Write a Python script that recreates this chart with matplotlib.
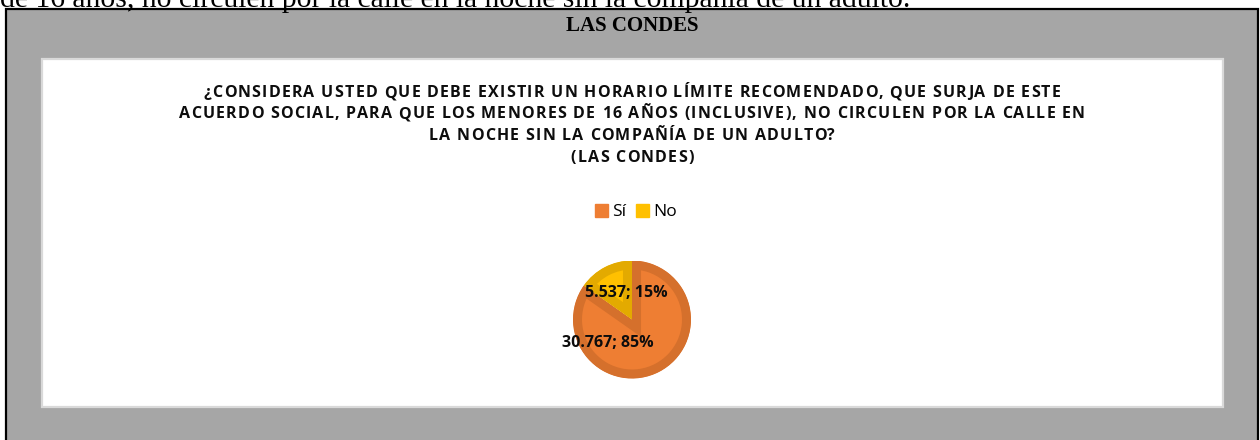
import numpy as np
import matplotlib
matplotlib.use('Agg')
import matplotlib.pyplot as plt
import matplotlib.patches as mpatches
from matplotlib.font_manager import FontProperties

# data
categories = ['Sí', 'No']
counts = [30767, 5537]
label_texts = ['30.767; 85%', '5.537; 15%']
title_lines = [
    '¿CONSIDERA USTED QUE DEBE EXISTIR UN HORARIO LÍMITE RECOMENDADO, QUE SURJA DE ESTE',
    'ACUERDO SOCIAL, PARA QUE LOS MENORES DE 16 AÑOS (INCLUSIVE), NO CIRCULEN POR LA CALLE EN',
    'LA NOCHE SIN LA COMPAÑÍA DE UN ADULTO?',
    '(LAS CONDES)',
]
header = 'LAS CONDES'
page_text = 'de 16 años, no circulen por la calle en la noche sin la compañía de un adulto.'

C_FILL = ['#ee7e33', '#ffc000']
C_EDGE = ['#d5702c', '#e3aa00']
W, H = 1260, 440

fig = plt.figure(figsize=(12.6, 4.4), dpi=100)
bg = fig.add_axes([0, 0, 1, 1])
bg.set_xlim(0, W)
bg.set_ylim(H, 0)
bg.axis('off')
renderer = fig.canvas.get_renderer()


def text_w(s, prop):
    # advance width in pixels, trailing spaces included
    w_bar = renderer.get_text_width_height_descent('|', prop, ismath=False)[0]
    return renderer.get_text_width_height_descent(s + '|', prop, ismath=False)[0] - w_bar


def spaced_text(ax, xc, y, s, track, prop, color):
    # letter-spaced text (Excel title style), centred on xc
    lefts = [text_w(s[:i], prop) + track * i for i in range(len(s))]
    total = text_w(s, prop) + track * (len(s) - 1)
    x0 = xc - total / 2
    for ch, lx in zip(s, lefts):
        if ch != ' ':
            ax.text(x0 + lx, y, ch, ha='left', va='center', fontproperties=prop, color=color)


# page text cut off at the top
bg.text(0, 7, page_text, fontsize=21.3, family='Liberation Serif', va='baseline', ha='left')

# grey box + white chart area
bg.add_patch(mpatches.Rectangle((5.5, 9.5), 1252.5, 440, facecolor='#a6a6a6',
                                edgecolor='black', linewidth=1.6))
bg.add_patch(mpatches.Rectangle((42, 59), 1181, 348, facecolor='white',
                                edgecolor='#d9d9d9', linewidth=1.6))
bg.text(632, 26, header, fontsize=15, family='Liberation Serif', fontweight='bold',
        ha='center', va='center')

title_prop = FontProperties(family='Open Sans', weight='bold', size=11.5)
base_w = text_w(title_lines[1], title_prop)
track = (906 - base_w) / (len(title_lines[1]) - 1)
for i, line in enumerate(title_lines):
    spaced_text(bg, 632, 93 + i * 21.5, line, track, title_prop, '#0d0d0d')

# legend
handles = [mpatches.Patch(color=c) for c in C_FILL]
fig.legend(handles, categories, loc='center', bbox_to_anchor=(636 / W, 1 - 212 / H),
           ncol=2, frameon=False, handlelength=0.75, handleheight=0.75, handletextpad=0.2,
           columnspacing=0.6, prop={'family': 'Open Sans', 'size': 12.5})

# pie
cx, cy, r = 632, 319.5, 59
ax = fig.add_axes([(cx - r) / W, 1 - (cy + r) / H, 2 * r / W, 2 * r / H])
wedges, _ = ax.pie(counts, colors=C_FILL, startangle=90, counterclock=False,
                   wedgeprops={'linewidth': 0})
ax.set_xlim(-1, 1)
ax.set_ylim(-1, 1)
ax.set_aspect('equal')
ax.axis('off')
for w, ec in zip(wedges, C_EDGE):
    w.set_edgecolor(ec)
    w.set_linewidth(13)
    w.set_clip_on(True)
    w.set_clip_path(w.get_path(), w.get_transform())

# data labels (best-fit style positions)
label_pos = [(224, 0.57), (102, 0.46)]
for txt, (ang, rad) in zip(label_texts, label_pos):
    a = np.deg2rad(ang)
    ax.text(rad * np.cos(a), rad * np.sin(a), txt, ha='center', va='center',
            fontsize=11.5, family='Open Sans', fontweight='bold', color='#0d0d0d',
            clip_on=False)

fig.savefig('out.png', dpi=100)
